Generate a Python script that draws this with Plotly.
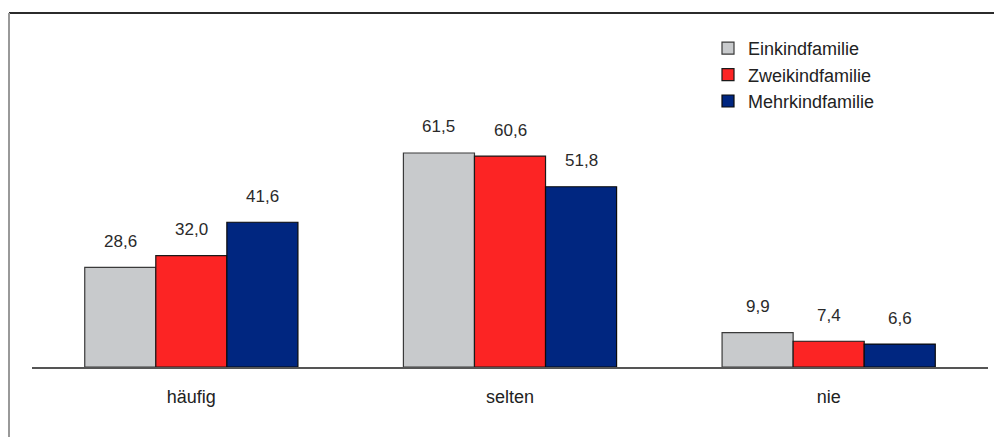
import plotly.graph_objects as go

kategorien = ["häufig", "selten", "nie"]
einkind = [28.6, 61.5, 9.9]
zweikind = [32.0, 60.6, 7.4]
mehrkind = [41.6, 51.8, 6.6]

serien = [
    ("Einkindfamilie", einkind, "#C8CACC", "#3a3a3a"),
    ("Zweikindfamilie", zweikind, "#FC2424", "#1a1a1a"),
    ("Mehrkindfamilie", mehrkind, "#002680", "#0a0a0a"),
]

W, H = 994, 437
L, R, T, B = 32, 6, 19, 70
pw, ph = W - L - R, H - T - B

fig = go.Figure()
for name, vals, col, line in serien:
    fig.add_trace(go.Bar(
        name=name, x=kategorien, y=vals, legendgroup=name,
        marker=dict(color=col, line=dict(color=line, width=1.2)),
    ))

# Beschriftungen über den Balken
bw = pw / 3 * (1 - 0.331) / 3
for i, (name, vals, col, line) in enumerate(serien):
    for k, v in zip(kategorien, vals):
        fig.add_annotation(
            x=k, y=v, xref="x", yref="y", text=f"{v:.1f}".replace(".", ","),
            showarrow=False, xshift=(i - 1) * bw, yshift=26,
            font=dict(size=17, color="#2a2a2a"),
        )

def px_x(p):
    return (p - L) / pw

def px_y(p):
    return (H - B - p) / ph

# Rahmen (oben und links)
fig.add_shape(type="line", xref="paper", yref="paper",
              x0=px_x(9), x1=px_x(W), y0=px_y(13), y1=px_y(13),
              line=dict(color="#2b2b2b", width=2))
fig.add_shape(type="line", xref="paper", yref="paper",
              x0=px_x(9), x1=px_x(9), y0=px_y(13), y1=px_y(H),
              line=dict(color="#999999", width=2))

fig.update_layout(
    width=W, height=H,
    margin=dict(l=L, r=R, t=T, b=B),
    barmode="group", bargap=0.331, bargroupgap=0,
    plot_bgcolor="white", paper_bgcolor="white",
    font=dict(family="Liberation Sans, Arial, sans-serif", color="#222222"),
    showlegend=True,
    legend=dict(x=px_x(708), y=px_y(30), xanchor="left", yanchor="top",
                font=dict(size=18, color="#222222"), tracegroupgap=0,
                bgcolor="rgba(0,0,0,0)"),
    xaxis=dict(showline=True, linecolor="#555555", linewidth=1.5,
               ticks="", tickfont=dict(size=18, color="#222222"),
               ticklabelstandoff=13, showgrid=False),
    yaxis=dict(range=[0, 100], visible=False, showgrid=False, zeroline=False),
)

fig.write_html("out.html", config={"displayModeBar": False},
               post_script="document.body.style.margin='0';")
